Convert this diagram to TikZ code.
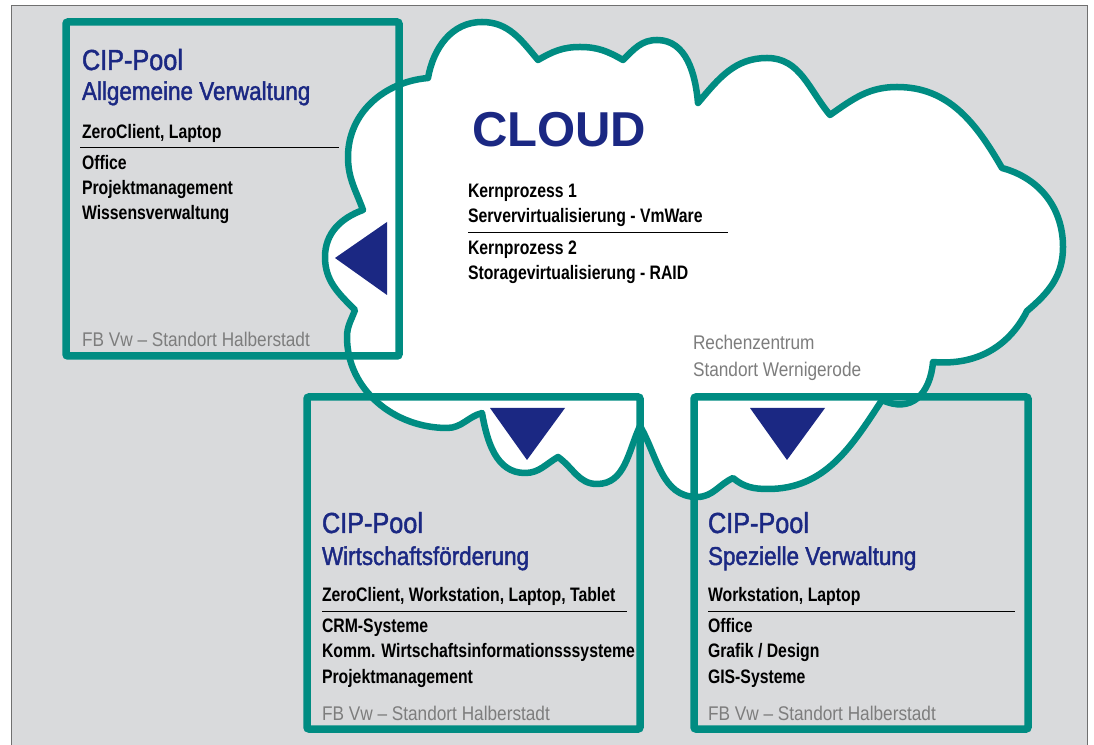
\documentclass[tikz,border=0pt]{standalone}
\usepackage{fontspec}
\setmainfont{Liberation Sans}[FakeStretch=0.87]
\newfontfamily\cnbold{Liberation Sans Bold}[FakeStretch=0.81]
\newfontfamily\cnhead{Liberation Sans}[FakeStretch=0.87,FakeBold=1.6]
\newfontfamily\widesans{Liberation Sans}

\definecolor{tealc}{RGB}{0,140,130}
\definecolor{navy}{RGB}{27,40,131}
\definecolor{panel}{RGB}{217,218,220}
\definecolor{framec}{RGB}{112,112,112}
\definecolor{graytxt}{RGB}{125,125,125}

\tikzset{
  cloudline/.style={draw=tealc, line width=6.5pt, fill=white, line join=round},
  poolbox/.style={draw=tealc, line width=7.5pt, rounded corners=2pt},
  arrowtri/.style={fill=navy},
  sepline/.style={draw=black, line width=1pt},
  basetxt/.style={anchor=base west, inner sep=0pt, outer sep=0pt},
  pooltitle/.style={basetxt, text=navy, font=\cnhead\fontsize{29}{29}\selectfont},
  poolsub/.style={basetxt, text=navy, font=\cnhead\fontsize{25.8}{25.8}\selectfont},
  item/.style={basetxt, text=black, font=\cnbold\fontsize{19.5}{19.5}\selectfont},
  loc/.style={basetxt, text=graytxt, font=\fontsize{19.8}{19.8}\selectfont},
}

\begin{document}
\begin{tikzpicture}[x=1pt,y=1pt]
  \useasboundingbox (0,0) rectangle (1094,744);
  \fill[white] (0,0) rectangle (1094,744);
  % grey panel, its lower edge runs off the page
  \draw[fill=panel, draw=framec, line width=1.5pt] (11.5,-10) rectangle (1087.5,738.5);

  % the cloud
  \draw[cloudline]
    (428,666) to[out=80,in=180] (482,722) to[out=0,in=130] (538,684)
    to[out=30,in=180] (580,697) to[out=0,in=150] (623,684)
    to[out=45,in=180] (657,704) to[out=0,in=95] (698,641)
    to[out=50,in=180] (767,686) to[out=0,in=130] (830,629)
    to[out=35,in=180] (897,657) to[out=0,in=120] (1002,576)
    to[out=-15,in=90] (1063,497) to[out=270,in=40] (1027,433)
    to[out=243,in=-5] (933,382)
    to[out=265,in=-25,looseness=1.3] (882,344)
    to[out=237,in=0] (768,255) to[out=180,in=-40] (733,266)
    to[out=205,in=0] (697,247) to[out=180,in=-60] (640,318)
    to[out=245,in=0] (597,260) to[out=180,in=-35] (558,287)
    to[out=210,in=0] (525,271) to[out=180,in=-80] (482,331)
    to[out=195,in=0] (447,316) to[out=180,in=270] (347,407) to[out=90,in=250] (355,434)
    to[out=135,in=270] (325,487) to[out=90,in=200] (363,534)
    to[out=110,in=270] (348,587) to[out=90,in=185] (428,666)
    -- cycle;

  % the three pools
  \draw[poolbox] (66,388) rectangle (399,722);
  \draw[poolbox] (307,15) rectangle (640,347);
  \draw[poolbox] (694,15) rectangle (1028,347);

  % arrows out of the cloud
  \fill[arrowtri] (335,486) -- (387,522) -- (387,449) -- cycle;
  \fill[arrowtri] (490,336) -- (565,336) -- (527,284) -- cycle;
  \fill[arrowtri] (750,336) -- (825,336) -- (787,284) -- cycle;

  % cloud texts
  \node[basetxt, text=navy, font=\widesans\bfseries\fontsize{49}{49}\selectfont] (cloudtitle) at (472,597) {CLOUD};
  \node[item] (kp1) at (468,546) {Kernprozess 1};
  \node[item] (kp1b) at (468,521) {Servervirtualisierung - VmWare};
  \coordinate (r0a) at (468,511);
  \coordinate (r0b) at (728,511);
  \draw[sepline] (r0a) -- (r0b);
  \node[item] (kp2) at (468,489) {Kernprozess 2};
  \node[item] (kp2b) at (468,464) {Storagevirtualisierung - RAID};
  \node[loc] (rz1) at (693,394) {Rechenzentrum};
  \node[loc] (rz2) at (693,367) {Standort Wernigerode};

  % pool 1
  \node[pooltitle] (p1t) at (82,674) {CIP-Pool};
  \node[poolsub] (p1s) at (82,644) {Allgemeine Verwaltung};
  \node[item] (p1d) at (82,605) {ZeroClient, Laptop};
  \coordinate (r1a) at (80,596);
  \coordinate (r1b) at (339,596);
  \draw[sepline] (r1a) -- (r1b);
  \node[item] (p1a) at (82,574) {Office};
  \node[item] (p1b) at (82,549) {Projektmanagement};
  \node[item] (p1c) at (82,524) {Wissensverwaltung};
  \node[loc] (p1l) at (82,397) {FB Vw – Standort Halberstadt};

  % pool 2
  \node[pooltitle] (p2t) at (322,211) {CIP-Pool};
  \node[poolsub] (p2s) at (322,179) {Wirtschaftsförderung};
  \node[item] (p2d) at (322,142) {ZeroClient, Workstation, Laptop, Tablet};
  \coordinate (r2a) at (322,132);
  \coordinate (r2b) at (627,132);
  \draw[sepline] (r2a) -- (r2b);
  \node[item] (p2a) at (322,111) {CRM-Systeme};
  \node[item] (p2b) at (322,86) {Komm. Wirtschaftsinformationsssysteme};
  \node[item] (p2c) at (322,61) {Projektmanagement};
  \node[loc] (p2l) at (322,24) {FB Vw – Standort Halberstadt};

  % pool 3
  \node[pooltitle] (p3t) at (708,211) {CIP-Pool};
  \node[poolsub] (p3s) at (708,179) {Spezielle Verwaltung};
  \node[item] (p3d) at (708,142) {Workstation, Laptop};
  \coordinate (r3a) at (708,132);
  \coordinate (r3b) at (1015,132);
  \draw[sepline] (r3a) -- (r3b);
  \node[item] (p3a) at (708,111) {Office};
  \node[item] (p3b) at (708,86) {Grafik / Design};
  \node[item] (p3c) at (708,61) {GIS-Systeme};
  \node[loc] (p3l) at (708,24) {FB Vw – Standort Halberstadt};
\end{tikzpicture}
\end{document}
